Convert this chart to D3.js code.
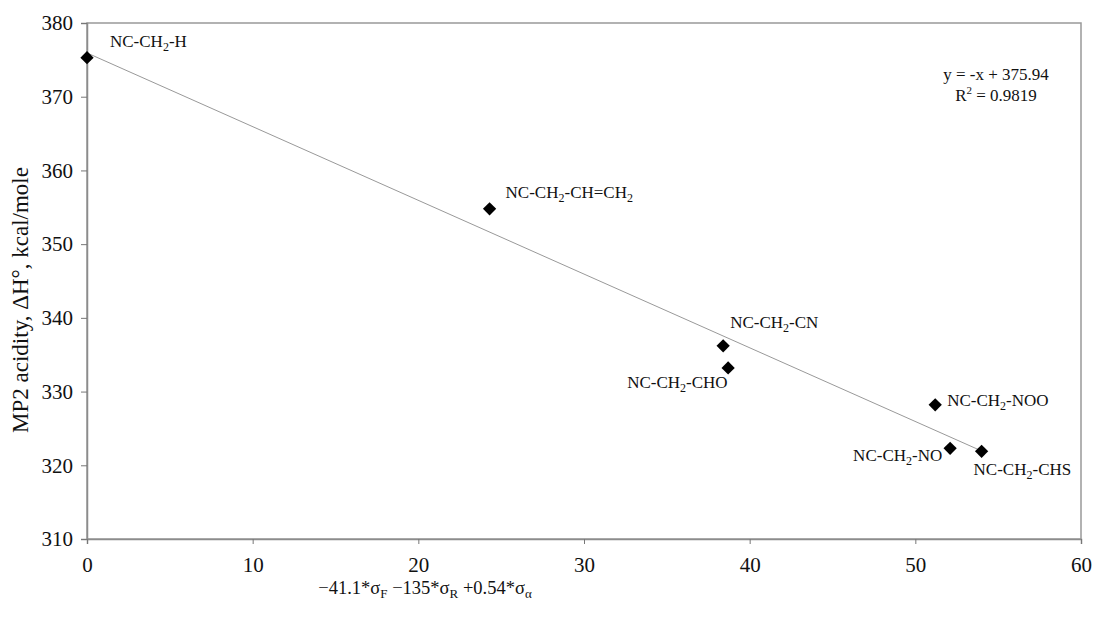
<!DOCTYPE html>
<html>
<head>
<meta charset="utf-8">
<script src="https://cdn.jsdelivr.net/npm/d3@7"></script>
<style>
  body { margin: 0; background: #fff; }
  text { font-family: "Liberation Serif", "Times New Roman", serif; fill: #111; }
</style>
</head>
<body>
<div id="chart"></div>
<script>
// compounds (label pieces: normal, subscript, normal, subscript...)
var names = [
  ["NC-CH", "2", "-H"],
  ["NC-CH", "2", "-CH=CH", "2"],
  ["NC-CH", "2", "-CN"],
  ["NC-CH", "2", "-CHO"],
  ["NC-CH", "2", "-NOO"],
  ["NC-CH", "2", "-NO"],
  ["NC-CH", "2", "-CHS"]
];
var xVals = [0, 24.3, 38.4, 38.7, 51.2, 52.1, 54.0];
var yVals = [375.3, 354.8, 336.2, 333.2, 328.2, 322.3, 321.9];
// label offsets from the marker, in px
var labelDx = [23, 16, 7, -101, 12, -97, -8];
var labelDy = [-11, -11, -18, 20, 1, 13, 24];

var xTicks = [0, 10, 20, 30, 40, 50, 60];
var yTicks = [310, 320, 330, 340, 350, 360, 370, 380];

var slope = -1, intercept = 375.94;

var width = 1094, height = 617;
var mLeft = 87, mRight = 1081, mTop = 23, mBottom = 539;

var svg = d3.select("#chart")
	.append("svg")
	.attr("width", width)
	.attr("height", height);

var x = d3.scaleLinear().domain([0, 60]).range([mLeft, mRight]);
var y = d3.scaleLinear().domain([310, 380]).range([mBottom, mTop]);

// plot frame
svg.append("rect")
	.attr("x", mLeft)
	.attr("y", mTop)
	.attr("width", mRight - mLeft)
	.attr("height", mBottom - mTop)
	.style("fill", "none")
	.style("stroke", "#999")
	.style("stroke-width", 1.5);

var yAxis = svg.append("g")
	.attr("transform", "translate(" + mLeft + ",0)")
	.call(d3.axisLeft(y).tickValues(yTicks).tickSize(6).tickPadding(8));

var xAxis = svg.append("g")
	.attr("transform", "translate(0," + mBottom + ")")
	.call(d3.axisBottom(x).tickValues(xTicks).tickSize(5).tickPadding(13));

[yAxis, xAxis].forEach(function(a){
	a.select(".domain").style("stroke", "#8c8c8c").style("stroke-width", 1.5);
	a.selectAll(".tick line").style("stroke", "#777");
	a.selectAll(".tick text")
		.style("fill", "#111")
		.style("font-family", "Liberation Serif")
		.style("font-size", "21px");
});

// trend line over the data range
var x0 = d3.min(xVals), x1 = d3.max(xVals);
svg.append("line")
	.attr("x1", x(x0))
	.attr("y1", y(slope * x0 + intercept))
	.attr("x2", x(x1))
	.attr("y2", y(slope * x1 + intercept))
	.style("stroke", "#999")
	.style("stroke-width", 1);

// diamonds
svg.selectAll("path.pt")
	.data(xVals)
	.enter()
	.append("path")
	.attr("class", "pt")
	.attr("d", d3.symbol().type(d3.symbolSquare).size(88))
	.attr("transform", function(d, i){
		return "translate(" + x(d) + "," + y(yVals[i]) + ") rotate(45)";
	})
	.style("fill", "#000");

// point labels with subscripts
var labs = svg.selectAll("text.lab")
	.data(names)
	.enter()
	.append("text")
	.attr("class", "lab")
	.attr("x", function(d, i){ return x(xVals[i]) + labelDx[i]; })
	.attr("y", function(d, i){ return y(yVals[i]) + labelDy[i]; })
	.style("font-size", "17px");

labs.each(function(parts){
	var t = d3.select(this);
	parts.forEach(function(p, k){
		if (k % 2 == 1) {
			t.append("tspan").attr("dy", 4).style("font-size", "12px").text(p);
		} else {
			t.append("tspan").attr("dy", k == 0 ? 0 : -4).text(p);
		}
	});
});

// regression equation
var eq = svg.append("text")
	.attr("x", 996)
	.attr("y", 80)
	.attr("text-anchor", "middle")
	.style("font-size", "17px");
eq.append("tspan").text("y = -x + 375.94");

var r2 = svg.append("text")
	.attr("x", 996)
	.attr("y", 101)
	.attr("text-anchor", "middle")
	.style("font-size", "17px");
r2.append("tspan").text("R");
r2.append("tspan").attr("dy", -7).style("font-size", "11px").text("2");
r2.append("tspan").attr("dy", 7).text(" = 0.9819");

// y axis title
svg.append("text")
	.attr("transform", "translate(28,300) rotate(-90)")
	.attr("text-anchor", "middle")
	.style("font-size", "23px")
	.text("MP2 acidity, \u0394H\u00b0, kcal/mole");

// x axis title
var xt = svg.append("text")
	.attr("x", 425)
	.attr("y", 594)
	.attr("text-anchor", "middle")
	.style("font-size", "18.5px");
xt.append("tspan").text("\u221241.1*\u03c3");
xt.append("tspan").attr("dy", 4).style("font-size", "13px").text("F");
xt.append("tspan").attr("dy", -4).text(" \u2212135*\u03c3");
xt.append("tspan").attr("dy", 4).style("font-size", "13px").text("R");
xt.append("tspan").attr("dy", -4).text(" +0.54*\u03c3");
xt.append("tspan").attr("dy", 4).style("font-size", "13px").text("\u03b1");
</script>
</body>
</html>
